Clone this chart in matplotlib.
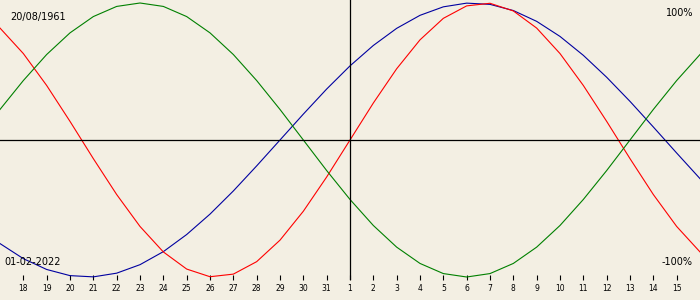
import matplotlib
matplotlib.use("Agg")
import matplotlib.pyplot as plt

# days relative to the selected date (01-02-2022)
days = list(range(-15, 16))

# cycle values (-1 .. 1)
physical = [0.817, 0.631, 0.398, 0.136, -0.136, -0.398, -0.631, -0.817, -0.942, -0.998,
            -0.979, -0.888, -0.731, -0.520, -0.270, 0.0, 0.270, 0.520, 0.731, 0.888,
            0.979, 0.998, 0.942, 0.817, 0.631, 0.398, 0.136, -0.136, -0.398, -0.631, -0.817]
emotional = [0.223, 0.434, 0.624, 0.782, 0.901, 0.975, 1.0, 0.975, 0.901, 0.782,
             0.624, 0.434, 0.223, 0.0, -0.223, -0.434, -0.624, -0.782, -0.901, -0.975,
             -1.0, -0.975, -0.901, -0.782, -0.624, -0.434, -0.223, 0.0, 0.223, 0.434, 0.624]
intellectual = [-0.756, -0.866, -0.945, -0.990, -0.999, -0.972, -0.910, -0.815, -0.690, -0.541,
                -0.372, -0.189, 0.0, 0.189, 0.372, 0.541, 0.690, 0.815, 0.910, 0.972,
                0.999, 0.990, 0.945, 0.866, 0.756, 0.618, 0.458, 0.282, 0.095, -0.095, -0.282]

tick_days = list(range(-14, 15))
tick_labels = ["18", "19", "20", "21", "22", "23", "24", "25", "26", "27", "28", "29", "30", "31",
               "1", "2", "3", "4", "5", "6", "7", "8", "9", "10", "11", "12", "13", "14", "15"]

birth_date = "20/08/1961"
chart_date = "01-02-2022"

BG = "#f3efe3"

fig = plt.figure(figsize=(7, 3), dpi=100, facecolor=BG)
ax = fig.add_axes([0, 20 / 300, 1, 280 / 300], facecolor=BG)

ax.plot(days, intellectual, color="#0000a0", lw=0.8)
ax.plot(days, physical, color="#ff0000", lw=0.8)
ax.plot(days, emotional, color="#008000", lw=0.8)

ax.axhline(0, color="black", lw=0.9)
ax.axvline(0, color="black", lw=0.9)

ax.set_xlim(-15, 15)
ax.set_ylim(-140 / 137, 140 / 137)

ax.set_xticks(tick_days)
ax.set_xticklabels(tick_labels, fontsize=5.5, family="DejaVu Sans")
ax.tick_params(axis="x", direction="in", length=3.6, width=0.8, pad=3, color="black")
ax.set_yticks([])
for s in ax.spines.values():
    s.set_visible(False)

txt = dict(fontsize=7, family="DejaVu Sans", va="center", transform=ax.transAxes)
ax.text(10 / 700, 1 - 17 / 280, birth_date, ha="left", **txt)
ax.text(4 / 700, 1 - 262 / 280, chart_date, ha="left", **txt)
ax.text(693 / 700, 1 - 13 / 280, "100%", ha="right", **txt)
ax.text(693 / 700, 1 - 262 / 280, "-100%", ha="right", **txt)

fig.savefig("out.png", dpi=100, facecolor=BG)
